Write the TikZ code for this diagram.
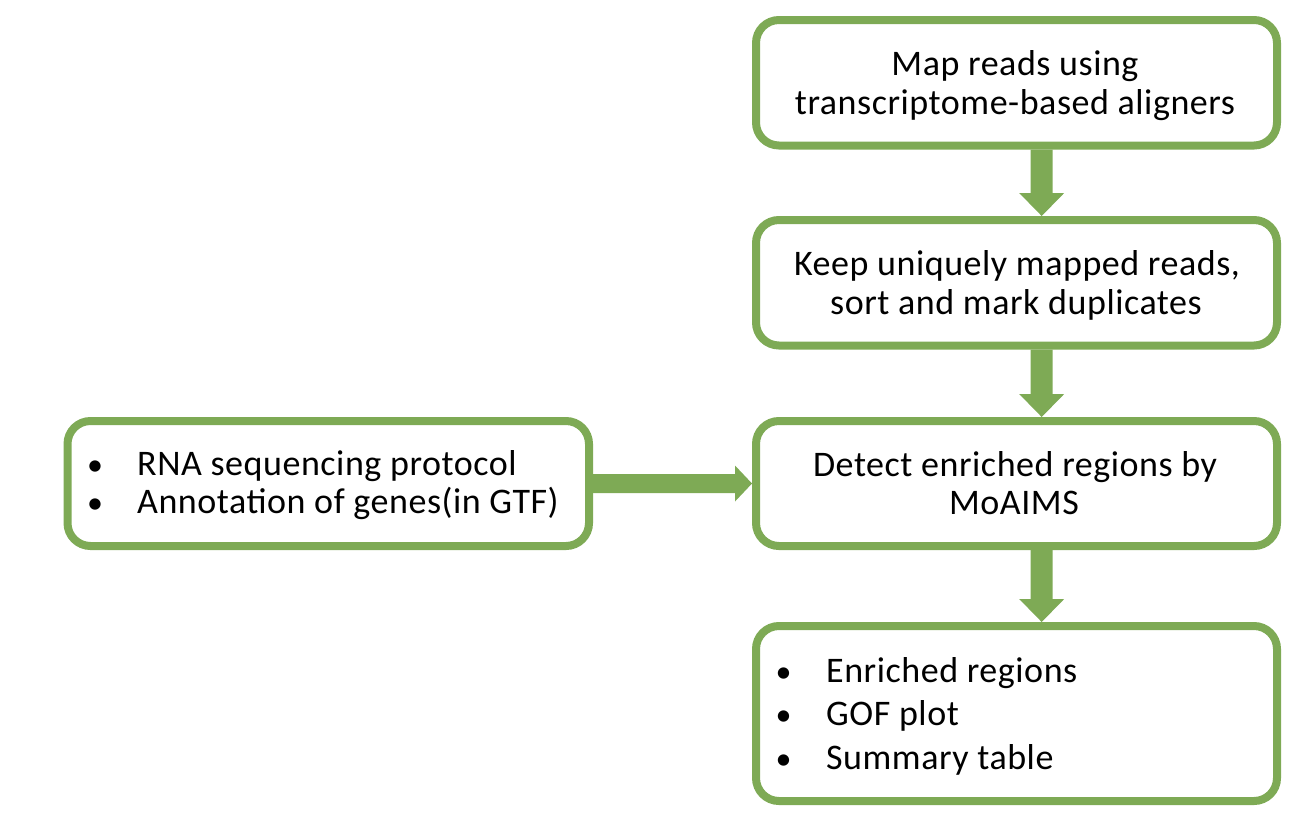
\documentclass[tikz,border=0pt]{standalone}
\usepackage{fontspec}
\setmainfont{Carlito}[LetterSpace=1.5]
\usetikzlibrary{calc}
\definecolor{grn}{RGB}{126,170,85}
\begin{document}
\begin{tikzpicture}[x=1pt,y=-1pt,
  box/.style={draw=grn, line width=8pt, rounded corners=23pt, minimum width=521pt, inner sep=0pt},
  txt/.style={anchor=base, inner sep=0pt, font=\fontsize{36}{40}\selectfont},
  ltxt/.style={anchor=base west, inner sep=0pt, font=\fontsize{36}{40}\selectfont},
  bul/.style={anchor=base, inner sep=0pt, font=\fontsize{32}{36}\selectfont},
  vblock/.style={to path={let \p1=(\tikztostart), \p2=(\tikztotarget) in
     (\x1-11pt,\y1) -- (\x1-11pt,\y2+23pt) -- (\x1-22.5pt,\y2+23pt) -- (\x1,\y2)
     -- (\x1+22.5pt,\y2+23pt) -- (\x1+11pt,\y2+23pt) -- (\x1+11pt,\y1) -- cycle}},
  hblock/.style={to path={let \p1=(\tikztostart), \p2=(\tikztotarget) in
     (\x1,\y1-9.5pt) -- (\x2-17pt,\y1-9.5pt) -- (\x2-17pt,\y1-18pt) -- (\x2,\y1)
     -- (\x2-17pt,\y1+18pt) -- (\x2-17pt,\y1+9.5pt) -- (\x1,\y1+9.5pt) -- cycle}}
]
\useasboundingbox (0,0) rectangle (1314,820);

% boxes
\node[box, minimum height=125.5pt] (b1) at (1016.5,82.75) {};
\node[box, minimum height=125.5pt] (b2) at (1016.5,282.75) {};
\node[box, minimum height=125pt] (b3) at (1016.5,483.5) {};
\node[box, minimum height=125pt, minimum width=521.5pt] (b4) at (328.25,483.5) {};
\node[box, minimum height=175pt] (b5) at (1016.5,713.5) {};

% texts
\node[txt] (t1a) at (1015,75.5) {Map reads using};
\node[txt] (t1b) at (1015,114.5) {transcriptome-based aligners};
\node[txt] (t2a) at (1017,275.5) {Keep uniquely mapped reads,};
\node[txt] (t2b) at (1016,314.5) {sort and mark duplicates};
\node[txt] (t3a) at (1015,476) {Detect enriched regions by};
\node[txt] (t3b) at (1014,514.5) {MoAIMS};

\node[bul] (p4a) at (95,475.5) {•};
\node[ltxt] (t4a) at (137,475.5) {RNA sequencing protocol};
\node[bul] (p4b) at (95,513.5) {•};
\node[ltxt] (t4b) at (137,513.5) {Annotation of genes(in GTF)};

\node[bul] (p5a) at (783.5,682.7) {•};
\node[ltxt] (t5a) at (826,682.7) {Enriched regions};
\node[bul] (p5b) at (783.5,725.5) {•};
\node[ltxt] (t5b) at (826,725.5) {GOF plot};
\node[bul] (p5c) at (783.5,769.5) {•};
\node[ltxt] (t5c) at (826,769.5) {Summary table};

% arrows
\coordinate (ax) at (1041.7,0);
\fill[grn] (b1.south -| ax) to[vblock] (b2.north -| ax);
\fill[grn] (b2.south -| ax) to[vblock] (b3.north -| ax);
\fill[grn] (b3.south -| ax) to[vblock] (b5.north -| ax);
\fill[grn] (b4.east) to[hblock] (b3.west);
\end{tikzpicture}
\end{document}
